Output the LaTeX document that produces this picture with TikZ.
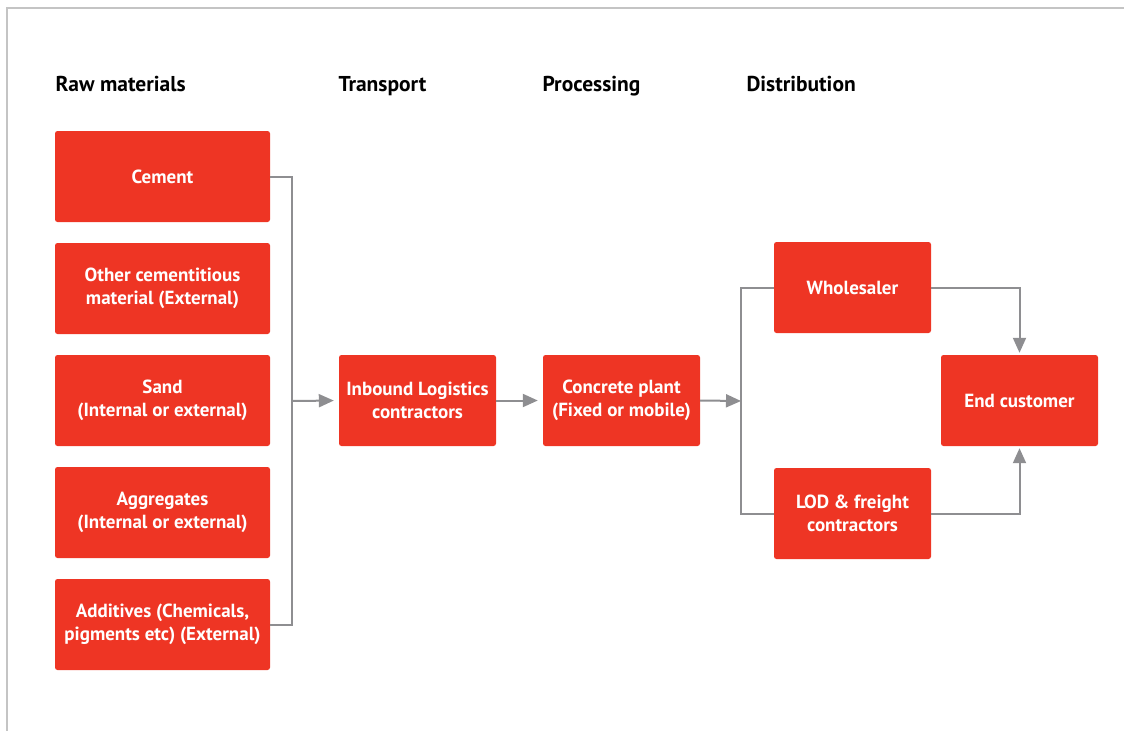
\documentclass[tikz,border=0pt]{standalone}
\usepackage{fontspec}
\setmainfont{PT Sans}
\usetikzlibrary{arrows.meta}

\definecolor{boxred}{HTML}{EE3524}
\definecolor{linegray}{HTML}{8E8E91}
\definecolor{framegray}{HTML}{C4C4C4}

\begin{document}
\begin{tikzpicture}[x=1pt,y=-1pt,
  box/.style={fill=boxred, rounded corners=2.5pt, text=white, align=center, inner sep=0pt,
    minimum height=\HEIGHT pt, font=\bfseries\fontsize{19}{23}\selectfont},
  widebox/.style={box, minimum width=\WIDE pt},
  narrowbox/.style={box, minimum width=\NARROW pt},
  head/.style={anchor=base west, font=\bfseries\fontsize{21.5}{24}\selectfont},
  link/.style={draw=linegray, line width=2pt},
  flow/.style={link, -{Triangle[length=15pt,width=13pt]}}]

\def\HEIGHT{91}
\def\WIDE{215}
\def\NARROW{157}
\def\STEP{112}

\useasboundingbox (0,0) rectangle (1125,731);

% frame
\draw[framegray, line width=1.5pt] (7,731) -- (7,8) -- (1124,8);

% column heads
\node[head] (hraw) at (52,91) {Raw materials};
\node[head] (htrans) at (335,91) {Transport};
\node[head] (hproc) at (539,91) {Processing};
\node[head] (hdist) at (743,91) {Distribution};

% raw materials
\node[widebox] (cement) at (162.5,176.5+0*\STEP) {Cement};
\node[widebox] (other) at (162.5,176.5+1*\STEP) {Other cementitious\\material (External)};
\node[widebox] (sand) at (162.5,176.5+2*\STEP) {Sand\\(Internal or external)};
\node[widebox] (aggr) at (162.5,176.5+3*\STEP) {Aggregates\\(Internal or external)};
\node[widebox] (addit) at (162.5,176.5+4*\STEP) {Additives (Chemicals,\\pigments etc) (External)};

% transport, processing, distribution
\node[narrowbox] (inbound) at (417.5,400.5) {Inbound Logistics\\contractors};
\node[narrowbox] (plant) at (621.5,400.5) {Concrete plant\\(Fixed or mobile)};
\node[narrowbox] (whole) at (852.5,287.5) {Wholesaler};
\node[narrowbox] (lod) at (852.5,513.5) {LOD \& freight\\contractors};
\node[narrowbox] (cust) at (1019.5,400.5) {End customer};

% connectors
\coordinate (busL) at (292,401);
\coordinate (busR) at (741,401);
\draw[link] (cement.east) -- (cement.east -| busL) -- (addit.east -| busL) -- (addit.east);
\draw[flow, shorten >=5pt] (busL) -- (inbound.west);
\draw[flow, shorten >=5pt] (inbound.east) -- (plant.west);
\draw[flow] (plant.east) -- (busR);
\draw[link] (whole.west) -- (whole.west -| busR) -- (lod.west -| busR) -- (lod.west);
\draw[flow, shorten >=2pt] (whole.east) -| (cust.north);
\draw[flow, shorten >=2pt] (lod.east) -| (cust.south);

\end{tikzpicture}
\end{document}
